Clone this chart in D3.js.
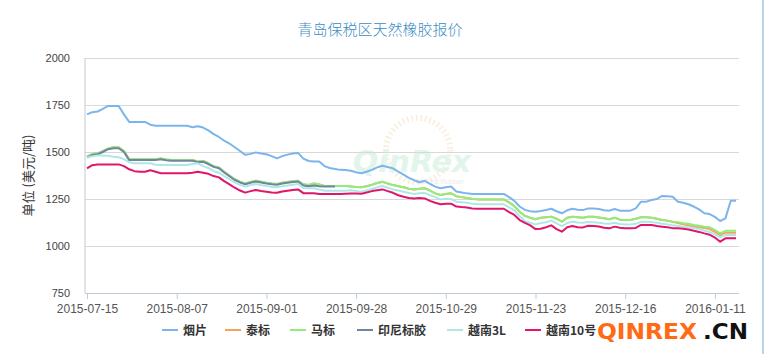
<!DOCTYPE html>
<html>
<head>
<meta charset="utf-8">
<script src="https://cdn.jsdelivr.net/npm/d3@7"></script>
<style>
  body { margin: 0; background: #fff; }
  svg { display: block; }
  .ylab text, .xlab text { font-family: "Liberation Sans", Arial, sans-serif; font-size: 11px; fill: #444; }
</style>
</head>
<body>
<div id="chart"></div>
<script>
// trading days (category axis)
var categories = [
  "2015-07-15","2015-07-16","2015-07-17","2015-07-20","2015-07-21","2015-07-22","2015-07-23","2015-07-24","2015-07-27","2015-07-28",
  "2015-07-29","2015-07-30","2015-07-31","2015-08-03","2015-08-04","2015-08-05","2015-08-06","2015-08-07","2015-08-10","2015-08-11",
  "2015-08-12","2015-08-13","2015-08-14","2015-08-17","2015-08-18","2015-08-19","2015-08-20","2015-08-21","2015-08-24","2015-08-25",
  "2015-08-26","2015-08-27","2015-08-28","2015-08-31","2015-09-01","2015-09-02","2015-09-07","2015-09-08","2015-09-09","2015-09-10",
  "2015-09-11","2015-09-14","2015-09-15","2015-09-16","2015-09-17","2015-09-18","2015-09-21","2015-09-22","2015-09-23","2015-09-24",
  "2015-09-25","2015-09-28","2015-09-29","2015-09-30","2015-10-09","2015-10-12","2015-10-13","2015-10-14","2015-10-15","2015-10-16",
  "2015-10-19","2015-10-20","2015-10-21","2015-10-22","2015-10-23","2015-10-26","2015-10-27","2015-10-28","2015-10-29","2015-10-30",
  "2015-11-02","2015-11-03","2015-11-04","2015-11-05","2015-11-06","2015-11-09","2015-11-10","2015-11-11","2015-11-12","2015-11-13",
  "2015-11-16","2015-11-17","2015-11-18","2015-11-19","2015-11-20","2015-11-23","2015-11-24","2015-11-25","2015-11-26","2015-11-27",
  "2015-11-30","2015-12-01","2015-12-02","2015-12-03","2015-12-04","2015-12-07","2015-12-08","2015-12-09","2015-12-10","2015-12-11",
  "2015-12-14","2015-12-15","2015-12-16","2015-12-17","2015-12-18","2015-12-21","2015-12-22","2015-12-23","2015-12-24","2015-12-25",
  "2015-12-28","2015-12-29","2015-12-30","2015-12-31","2016-01-04","2016-01-05","2016-01-06","2016-01-07","2016-01-08","2016-01-11",
  "2016-01-12","2016-01-13","2016-01-14","2016-01-15"
];

// every 17th category is labelled
var xTickLabels = ["2015-07-15","2015-08-07","2015-09-01","2015-09-28","2015-10-29","2015-11-23","2015-12-16","2016-01-11"];
var yTicks = [750, 1000, 1250, 1500, 1750, 2000];

// 烟片
var yanpian = [
  1700,1712,1715,1730,1745,1745,1745,1700,1660,1660,
  1660,1660,1645,1640,1640,1640,1640,1640,1640,1640,
  1632,1637,1630,1615,1595,1580,1560,1545,1525,1505,
  1485,1490,1498,1492,1488,1478,1466,1478,1486,1492,
  1495,1465,1452,1450,1450,1425,1415,1410,1405,1404,
  1400,1392,1387,1395,1405,1418,1427,1420,1413,1395,
  1380,1362,1350,1339,1347,1330,1316,1307,1312,1316,
  1290,1285,1280,1277,1277,1277,1277,1277,1277,1277,
  1260,1240,1210,1192,1185,1182,1186,1191,1198,1185,
  1174,1190,1198,1193,1191,1200,1200,1197,1190,1188,
  1197,1188,1188,1188,1200,1236,1236,1245,1250,1266,
  1265,1262,1235,1230,1222,1210,1195,1174,1170,1155,
  1133,1147,1241,1241
];
// 泰标
var taibiao = [
  1475,1489,1493,1505,1518,1525,1525,1505,1461,1461,
  1461,1461,1461,1462,1465,1460,1457,1457,1457,1457,
  1457,1450,1452,1440,1425,1418,1395,1375,1355,1342,
  1332,1340,1347,1342,1337,1333,1330,1336,1341,1345,
  1347,1328,1325,1333,1328,1319,1319,1319,1319,1319,
  1317,1314,1312,1318,1326,1335,1342,1332,1324,1318,
  1312,1305,1301,1304,1307,1295,1280,1271,1276,1280,
  1265,1260,1255,1250,1248,1248,1248,1248,1248,1248,
  1232,1212,1182,1160,1150,1142,1150,1153,1156,1145,
  1129,1150,1156,1153,1150,1156,1156,1152,1148,1142,
  1150,1140,1138,1138,1145,1153,1153,1150,1145,1138,
  1135,1129,1122,1116,1110,1104,1100,1096,1090,1075,
  1058,1071,1071,1071
];
// 马标
var mabiao = [
  1475,1489,1493,1505,1518,1525,1525,1505,1461,1461,
  1461,1461,1461,1462,1465,1460,1457,1457,1457,1457,
  1457,1450,1452,1440,1425,1418,1395,1375,1355,1342,
  1332,1340,1347,1342,1337,1333,1330,1336,1341,1345,
  1347,1328,1325,1333,1328,1319,1319,1319,1319,1319,
  1317,1314,1312,1318,1326,1335,1342,1332,1324,1318,
  1312,1305,1301,1304,1307,1295,1280,1271,1276,1280,
  1265,1260,1255,1250,1248,1248,1248,1248,1248,1248,
  1232,1212,1182,1160,1150,1142,1150,1153,1156,1145,
  1129,1150,1156,1153,1150,1156,1156,1152,1148,1142,
  1150,1140,1138,1138,1145,1153,1153,1150,1145,1138,
  1135,1129,1127,1121,1118,1112,1108,1103,1100,1085,
  1067,1081,1081,1081
];
// 印尼标胶 (quotes stop in late September)
var yinni = [
  1470,1484,1488,1500,1515,1520,1520,1500,1457,1457,
  1457,1457,1457,1458,1461,1456,1453,1453,1453,1453,
  1453,1446,1448,1436,1421,1414,1391,1371,1351,1338,
  1328,1336,1343,1338,1333,1329,1326,1332,1337,1341,
  1343,1322,1318,1322,1318,1316,1316,1316
];
// 越南3L
var yuenan3l = [
  1470,1478,1482,1482,1480,1475,1472,1462,1445,1440,
  1440,1440,1440,1432,1431,1431,1431,1431,1431,1431,
  1436,1440,1425,1415,1398,1390,1372,1355,1338,1325,
  1316,1324,1330,1324,1319,1315,1312,1318,1322,1326,
  1330,1308,1307,1307,1300,1294,1294,1294,1294,1294,
  1296,1292,1289,1295,1303,1312,1319,1310,1301,1295,
  1289,1282,1277,1280,1283,1270,1260,1248,1252,1250,
  1236,1233,1230,1225,1222,1222,1222,1222,1222,1222,
  1205,1190,1158,1132,1122,1115,1122,1126,1135,1120,
  1106,1122,1129,1125,1124,1128,1126,1124,1120,1118,
  1124,1117,1115,1115,1118,1129,1129,1127,1124,1118,
  1115,1110,1106,1103,1100,1094,1090,1081,1075,1062,
  1046,1058,1058,1058
];
// 越南10号
var yuenan10 = [
  1413,1430,1434,1434,1434,1434,1434,1425,1408,1398,
  1395,1395,1403,1395,1387,1387,1387,1387,1387,1387,
  1390,1395,1390,1384,1372,1365,1345,1328,1310,1295,
  1284,1292,1298,1293,1289,1285,1283,1290,1294,1298,
  1301,1281,1280,1280,1276,1276,1276,1276,1277,1278,
  1279,1279,1278,1285,1292,1297,1301,1292,1283,1270,
  1262,1255,1253,1255,1253,1240,1230,1222,1225,1225,
  1210,1207,1205,1200,1198,1198,1198,1198,1198,1198,
  1180,1165,1138,1123,1110,1090,1092,1100,1110,1090,
  1076,1100,1106,1100,1099,1108,1106,1104,1097,1094,
  1103,1097,1094,1094,1096,1112,1112,1112,1106,1103,
  1100,1095,1094,1092,1088,1081,1075,1067,1060,1045,
  1023,1041,1041,1041
];

var seriesNames = ["烟片", "泰标", "马标", "印尼标胶", "越南3L", "越南10号"];
var seriesColors = ["#7cb5ec", "#f7a35c", "#90ed7d", "#6f86a0", "#aee8e6", "#e0166b"];
var seriesData = [yanpian, taibiao, mabiao, yinni, yuenan3l, yuenan10];

var W = 767, H = 354;
var plot = {left: 85, right: 739, top: 58, bottom: 293};

var svg = d3.select("#chart").append("svg")
    .attr("width", W)
    .attr("height", H);

// scales
var x = d3.scaleLinear().domain([0, categories.length - 1]).range([87, 736]);
var y = d3.scaleLinear().domain([750, 2000]).range([plot.bottom, plot.top]);

// title
svg.append("text")
    .attr("x", 380).attr("y", 35)
    .attr("text-anchor", "middle")
    .style("font-family", "'Noto Sans CJK SC', sans-serif")
    .style("font-size", "15px")
    .style("font-weight", 300)
    .style("fill", "#3b8dc2")
    .text("青岛保税区天然橡胶报价");

// faint watermark in the middle of the plot
var wm = svg.append("g").attr("opacity", 0.5);
wm.append("circle")
    .attr("cx", 418).attr("cy", 150).attr("r", 32)
    .attr("fill", "none")
    .attr("stroke", "#f6dcb8")
    .attr("stroke-width", 6)
    .attr("stroke-dasharray", "1.5,3");
wm.append("text")
    .attr("x", 412).attr("y", 172)
    .attr("text-anchor", "middle")
    .style("font-family", "'DejaVu Sans', sans-serif")
    .style("font-size", "30px")
    .style("font-weight", "bold")
    .style("font-style", "italic")
    .style("fill", "#c6ecd6")
    .text("QinRex");
wm.append("text")
    .attr("x", 440).attr("y", 184)
    .attr("text-anchor", "middle")
    .style("font-family", "'Liberation Sans', sans-serif")
    .style("font-size", "7px")
    .style("fill", "#d8d8d8")
    .text("Natural Rubber");

// y axis with grid
var yAxis = svg.append("g")
    .attr("class", "ylab")
    .attr("transform", "translate(" + plot.left + ",0)")
    .call(d3.axisLeft(y).tickValues(yTicks)
        .tickSize(-(plot.right - plot.left))
        .tickPadding(15)
        .tickFormat(d3.format("d")));
yAxis.select(".domain").remove();
yAxis.selectAll("line").attr("stroke", "#d8d8d8");

// left axis line
svg.append("line")
    .attr("x1", plot.left).attr("x2", plot.left)
    .attr("y1", plot.top).attr("y2", plot.bottom)
    .attr("stroke", "#c8c8c8");

// x axis
var xAxis = svg.append("g")
    .attr("class", "xlab")
    .attr("transform", "translate(0," + plot.bottom + ")")
    .call(d3.axisBottom(x)
        .tickValues(xTickLabels.map(function(d) { return categories.indexOf(d); }))
        .tickFormat(function(i) { return categories[i]; })
        .tickSize(6)
        .tickPadding(5)
        .tickSizeOuter(0));
xAxis.select(".domain").remove();
xAxis.selectAll("line").attr("stroke", "#c0ccd8");
xAxis.selectAll("text").style("font-size", "12px").style("fill", "#555");
svg.append("line")
    .attr("x1", plot.left).attr("x2", plot.right)
    .attr("y1", plot.bottom + 0.5).attr("y2", plot.bottom + 0.5)
    .attr("stroke", "#c0ccd8");

// y axis title
svg.append("text")
    .attr("transform", "translate(33," + ((plot.top + plot.bottom) / 2) + ") rotate(-90)")
    .attr("text-anchor", "middle")
    .style("font-family", "'Noto Sans CJK SC', sans-serif")
    .style("font-size", "13px")
    .style("fill", "#333")
    .text("单位 (美元/吨)");

// lines
var line = d3.line()
    .x(function(d, i) { return x(i); })
    .y(function(d) { return y(d); });

seriesData.forEach(function(data, k) {
    svg.append("path")
        .datum(data)
        .attr("fill", "none")
        .attr("stroke", seriesColors[k])
        .attr("stroke-width", 2)
        .attr("stroke-linejoin", "round")
        .attr("d", line);
});

// legend
var legendX = [162, 225, 290, 357, 447, 525];
var legend = svg.append("g");
seriesNames.forEach(function(name, k) {
    var g = legend.append("g").attr("transform", "translate(" + legendX[k] + ",330)");
    g.append("line")
        .attr("x1", 0).attr("x2", 16)
        .attr("stroke", seriesColors[k])
        .attr("stroke-width", 2);
    g.append("text")
        .attr("x", 21).attr("y", 5)
        .style("font-family", "'Noto Sans CJK SC', sans-serif")
        .style("font-size", "12px")
        .style("font-weight", "bold")
        .style("fill", "#333")
        .text(name);
});

// site mark at bottom right
svg.append("text")
    .attr("x", 597).attr("y", 339)
    .attr("textLength", 100)
    .attr("lengthAdjust", "spacingAndGlyphs")
    .style("font-family", "'DejaVu Sans', sans-serif")
    .style("font-size", "22px")
    .style("font-weight", "bold")
    .style("fill", "#ff6a13")
    .text("QINREX");
svg.append("text")
    .attr("x", 703).attr("y", 339)
    .attr("textLength", 45)
    .attr("lengthAdjust", "spacingAndGlyphs")
    .style("font-family", "'DejaVu Sans', sans-serif")
    .style("font-size", "22px")
    .style("font-weight", "bold")
    .style("fill", "#111")
    .text(".CN");

// light border on the right
svg.append("line")
    .attr("x1", 763).attr("x2", 763)
    .attr("y1", 0).attr("y2", H)
    .attr("stroke", "#b8d4ec")
    .attr("stroke-width", 2);
</script>
</body>
</html>
